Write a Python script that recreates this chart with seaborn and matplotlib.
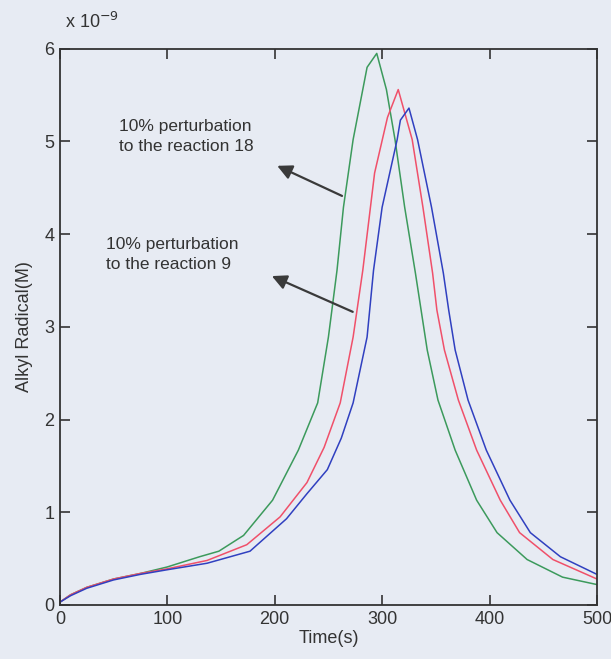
import pandas as pd
import matplotlib
matplotlib.use("Agg")
import matplotlib.pyplot as plt
import seaborn as sns

# alkyl radical concentration (x1e-9 M)
t_green = [0, 10, 25, 50, 75, 100, 130, 148, 171, 198, 222, 240, 250, 258, 264, 273, 286, 295,
           304, 312, 321, 331, 342, 352, 368, 388, 407, 435, 468, 500]
c_green = [0.03, 0.11, 0.19, 0.28, 0.34, 0.41, 0.52, 0.58, 0.75, 1.13, 1.67, 2.18, 2.89, 3.61, 4.29, 5.02, 5.80, 5.95,
           5.56, 5.02, 4.29, 3.58, 2.75, 2.21, 1.67, 1.13, 0.78, 0.49, 0.30, 0.22]

t_red = [0, 10, 25, 50, 75, 100, 137, 174, 205, 230, 246, 261, 273, 282, 293, 305, 315,
         328, 338, 347, 351, 358, 371, 388, 410, 428, 459, 500]
c_red = [0.03, 0.11, 0.19, 0.28, 0.34, 0.39, 0.48, 0.65, 0.95, 1.32, 1.70, 2.18, 2.89, 3.61, 4.66, 5.26, 5.56,
         5.02, 4.29, 3.58, 3.18, 2.75, 2.21, 1.67, 1.13, 0.78, 0.49, 0.28]

t_blue = [0, 10, 25, 50, 75, 100, 137, 177, 211, 230, 249, 262, 273, 286, 292, 300, 314, 317, 325,
          333, 346, 357, 362, 368, 380, 397, 419, 438, 466, 500]
c_blue = [0.03, 0.10, 0.18, 0.27, 0.33, 0.38, 0.45, 0.58, 0.93, 1.20, 1.46, 1.80, 2.18, 2.89, 3.61, 4.29, 5.02, 5.23, 5.36,
          5.02, 4.29, 3.58, 3.18, 2.75, 2.21, 1.67, 1.13, 0.78, 0.52, 0.33]

x_ticks = [0, 100, 200, 300, 400, 500]
y_ticks = [0, 1, 2, 3, 4, 5, 6]

bg = "#e7ebf3"
sns.set_style("ticks")
plt.rcParams["font.family"] = ["Liberation Sans", "DejaVu Sans"]

fig = plt.figure(figsize=(6.11, 6.59), dpi=100, facecolor=bg)
ax = fig.add_axes([0.098, 0.082, 0.879, 0.844], facecolor=bg)

for t, c, col in [(t_green, c_green, "#3c9a5c"),
                  (t_red, c_red, "#f0506a"),
                  (t_blue, c_blue, "#3040c0")]:
    df = pd.DataFrame({"t": t, "c": c})
    sns.lineplot(data=df, x="t", y="c", ax=ax, color=col, linewidth=1.1,
                 estimator=None, sort=False)

ax.set_xlim(0, 500)
ax.set_ylim(0, 6)
ax.set_xticks(x_ticks)
ax.set_yticks(y_ticks)
ax.tick_params(direction="in", length=7, width=1.2, top=True, right=True,
               labelsize=13, colors="#333333", pad=4)
for s in ax.spines.values():
    s.set_visible(True)
    s.set_color("#333333")
    s.set_linewidth(1.3)

ax.set_xlabel("Time(s)", fontsize=13, color="#333333", labelpad=2)
ax.set_ylabel("Alkyl Radical(M)", fontsize=13, color="#333333", labelpad=8)
ax.text(0.01, 1.03, r"x 10$^{-9}$", transform=ax.transAxes, fontsize=13,
        color="#333333", ha="left", va="bottom")

arrow = dict(arrowstyle="-|>", color="#3a3a3a", lw=1.6, mutation_scale=22)
ax.annotate("", xy=(200, 4.75), xytext=(265, 4.40), arrowprops=arrow)
ax.text(55, 5.05, "10% perturbation\nto the reaction 18", fontsize=12.5,
        color="#333333", va="center", linespacing=1.4)
ax.annotate("", xy=(195, 3.56), xytext=(275, 3.15), arrowprops=arrow)
ax.text(43, 3.78, "10% perturbation\nto the reaction 9", fontsize=12.5,
        color="#333333", va="center", linespacing=1.4)

fig.savefig("out.png", dpi=100, facecolor=bg)
